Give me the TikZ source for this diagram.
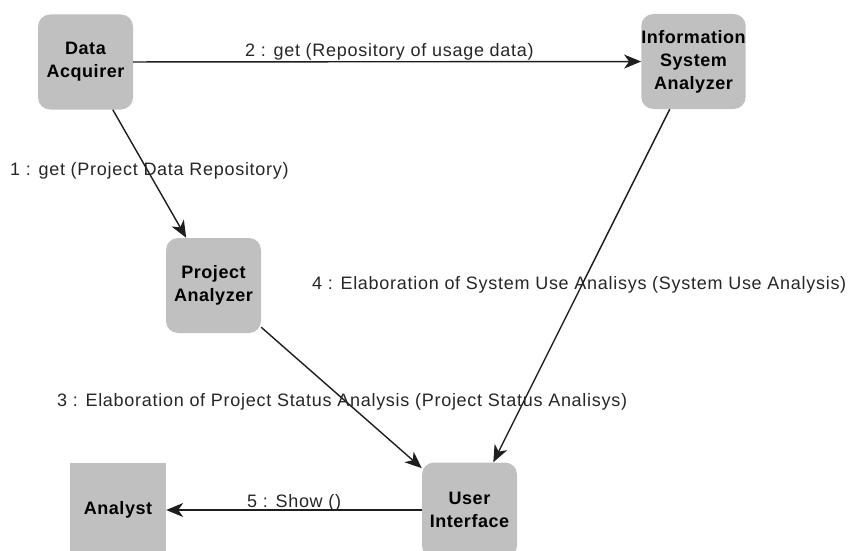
\documentclass[tikz,border=0pt]{standalone}
\usepackage{fontspec}
\setmainfont{Liberation Sans}
\newfontfamily\boxfont{Liberation Sans}[LetterSpace=3]
\newfontfamily\lblfont{Liberation Sans}[LetterSpace=4]
\usetikzlibrary{arrows.meta}
\definecolor{boxgray}{RGB}{192,192,192}
\definecolor{linecol}{RGB}{30,30,30}
\begin{document}
\begin{tikzpicture}[x=1pt,y=-1pt,
  obj/.style={fill=boxgray,draw=none,rounded corners=12pt,minimum width=95pt,minimum height=95pt,
    inner sep=0pt,align=center,font=\boxfont\bfseries\fontsize{18}{23}\selectfont},
  actor/.style={fill=boxgray,draw=none,minimum width=96pt,minimum height=95pt,
    inner sep=0pt,align=center,font=\boxfont\bfseries\fontsize{18}{23}\selectfont},
  msg/.style={line width=1.4pt,draw=linecol,-{Stealth[length=17pt,width=14pt,inset=5pt]}},
  lbl/.style={inner sep=0pt,anchor=base west,text=black!85,font=\lblfont\fontsize{18}{22}\selectfont}]
\useasboundingbox (0,0) rectangle (852,551);
\clip (0,0) rectangle (852,551);
\node[obj] (da) at (85.5,62) {Data\\Acquirer};
\node[obj] (isa) at (693.5,61.5) {Information\\System\\Analyzer};
\node[obj] (pa) at (213.5,285.5) {Project\\Analyzer};
\node[obj] (ui) at (469.5,510) {User\\Interface};
\node[actor] (an) at (118,510) {Analyst};
\draw[msg] (da) -- (pa);
\draw[msg] (da) -- (isa);
\draw[msg] (pa) -- (ui);
\draw[msg] (isa) -- (ui);
\draw[msg] (ui) -- (an);
\node[lbl] (l1) at (10,175) {1 : get (Project Data Repository)};
\node[lbl] (l2) at (245,56.5) {2 : get (Repository of usage data)};
\node[lbl] (l3) at (57,406) {3 : Elaboration of Project Status Analysis (Project Status Analisys)};
\node[lbl] (l4) at (312,289.5) {4 : Elaboration of System Use Analisys (System Use Analysis)};
\node[lbl] (l5) at (247,507) {5 : Show ()};
\end{tikzpicture}
\end{document}
